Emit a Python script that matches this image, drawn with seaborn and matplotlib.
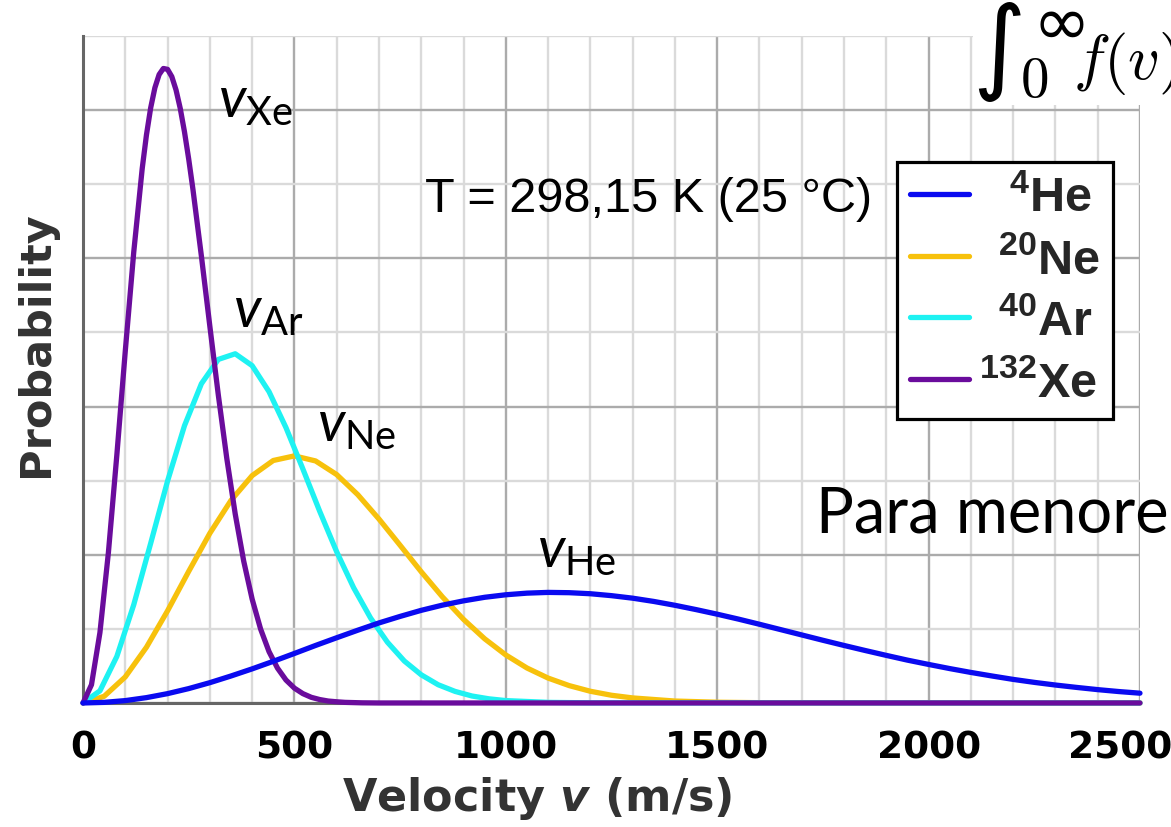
import numpy as np
import pandas as pd
import seaborn as sns
import matplotlib.pyplot as plt
from matplotlib.ticker import MultipleLocator, NullFormatter
from matplotlib.transforms import ScaledTranslation
from matplotlib.patches import Rectangle

# --- values (probability in units of 1e-3 s/m) ---
he_v = [0, 50, 100, 150, 200, 250, 300, 350, 400, 450, 500, 550, 600, 650, 700,
        750, 800, 850, 900, 950, 1000, 1050, 1100, 1150, 1200, 1250, 1300, 1350,
        1400, 1450, 1500, 1550, 1600, 1650, 1700, 1750, 1800, 1850, 1900, 1950,
        2000, 2050, 2100, 2150, 2200, 2250, 2300, 2350, 2400, 2450, 2500]
he_p = [0, 0.004, 0.016, 0.036, 0.063, 0.097, 0.137, 0.182, 0.230, 0.281, 0.334,
        0.388, 0.440, 0.491, 0.540, 0.584, 0.625, 0.660, 0.689, 0.713, 0.730,
        0.741, 0.746, 0.744, 0.737, 0.724, 0.707, 0.685, 0.659, 0.630, 0.599,
        0.566, 0.531, 0.495, 0.459, 0.423, 0.388, 0.354, 0.321, 0.289, 0.260,
        0.232, 0.206, 0.182, 0.159, 0.139, 0.121, 0.105, 0.090, 0.077, 0.066]

ne_v = [0, 50, 100, 150, 200, 250, 300, 350, 400, 450, 500, 550, 600, 650, 700,
        750, 800, 850, 900, 950, 1000, 1050, 1100, 1150, 1200, 1250, 1300, 1400,
        1500, 1600, 2500]
ne_p = [0, 0.045, 0.176, 0.376, 0.622, 0.888, 1.145, 1.367, 1.534, 1.636, 1.667,
        1.633, 1.541, 1.405, 1.241, 1.064, 0.885, 0.716, 0.564, 0.433, 0.324,
        0.236, 0.168, 0.117, 0.079, 0.052, 0.034, 0.013, 0.005, 0.002, 0]

ar_v = [0, 40, 80, 120, 160, 200, 240, 280, 320, 360, 400, 440, 480, 520, 560,
        600, 640, 680, 720, 760, 800, 840, 880, 920, 960, 1000, 1100, 1200, 2500]
ar_p = [0, 0.082, 0.314, 0.663, 1.077, 1.498, 1.871, 2.154, 2.318, 2.356, 2.276,
        2.100, 1.858, 1.579, 1.292, 1.020, 0.778, 0.574, 0.410, 0.283, 0.190,
        0.123, 0.078, 0.047, 0.028, 0.016, 0.004, 0.001, 0]

xe_v = [0, 20, 40, 60, 80, 100, 120, 140, 150, 160, 170, 180, 190, 200, 210, 220,
        230, 240, 250, 260, 280, 300, 320, 340, 360, 380, 400, 420, 440, 460, 480,
        500, 520, 540, 560, 580, 600, 620, 660, 700, 2500]
xe_p = [0, 0.123, 0.475, 1.014, 1.673, 2.376, 3.043, 3.606, 3.832, 4.015, 4.151,
        4.240, 4.281, 4.275, 4.226, 4.136, 4.011, 3.853, 3.669, 3.465, 3.015,
        2.541, 2.078, 1.651, 1.275, 0.958, 0.701, 0.499, 0.346, 0.235, 0.155,
        0.100, 0.063, 0.038, 0.023, 0.013, 0.008, 0.004, 0.001, 0, 0]

gases = ["He", "Ne", "Ar", "Xe"]
legend_labels = [r"$\enspace\;{}^{4}$He", r"$\enspace{}^{20}$Ne",
                 r"$\enspace{}^{40}$Ar", r"$^{132}$Xe"]
colors = {"He": "#0a0af0", "Ne": "#f7c10c", "Ar": "#1ef2f2", "Xe": "#6a0c9c"}
series = {"He": (he_v, he_p), "Ne": (ne_v, ne_p), "Ar": (ar_v, ar_p), "Xe": (xe_v, xe_p)}

# --- style ---
sns.set_style("white")
plt.rcParams["font.family"] = ["DejaVu Sans"]
plt.rcParams["mathtext.fontset"] = "custom"
plt.rcParams["mathtext.rm"] = "Liberation Sans"
plt.rcParams["mathtext.it"] = "Lato:italic"
plt.rcParams["mathtext.bf"] = "Liberation Sans:bold"
plt.rcParams["mathtext.bfit"] = "DejaVu Sans:italic:bold"
plt.rcParams["mathtext.default"] = "regular"

fig = plt.figure(figsize=(11.71, 8.28), dpi=100)
ax = fig.add_axes([0.0709, 0.1498, 0.9026, 0.8055])

# draw order: Ne, Ar, Xe, He
for g in ["Ne", "Ar", "Xe", "He"]:
    v, p = series[g]
    df = pd.DataFrame({"v": v, "p": p})
    sns.lineplot(data=df, x="v", y="p", color=colors[g], lw=3.8, ax=ax,
                 label=g, zorder=3, clip_on=False,
                 solid_joinstyle="round", solid_capstyle="round")

ax.set_xlim(0, 2500)
ax.set_ylim(0, 4.5)
ax.xaxis.set_major_locator(MultipleLocator(500))
ax.xaxis.set_minor_locator(MultipleLocator(100))
ax.yaxis.set_major_locator(MultipleLocator(1))
ax.yaxis.set_minor_locator(MultipleLocator(0.5))
ax.yaxis.set_major_formatter(NullFormatter())

ax.set_axisbelow(True)
ax.grid(which="major", color="#ababab", lw=1.7)
ax.grid(which="minor", color="#dadada", lw=1.7)

for s in ["top", "right"]:
    ax.spines[s].set_visible(False)
for s in ["left", "bottom"]:
    ax.spines[s].set_color("#666666")
    ax.spines[s].set_linewidth(2.2)

ax.tick_params(axis="x", which="major", length=10, width=2, color="#555555",
               labelsize=27, pad=9, labelcolor="black")
ax.tick_params(axis="x", which="minor", length=0)
ax.tick_params(axis="y", which="major", length=5, width=1.5, color="#555555")
ax.tick_params(axis="y", which="minor", length=0)
plt.setp(ax.get_xticklabels(), fontweight="bold")
# the 2500 label is pushed left so it stays inside the picture
for tick in ax.xaxis.get_major_ticks():
    if tick.get_loc() == 2500:
        lbl = tick.label1
        lbl.set_transform(lbl.get_transform() + ScaledTranslation(-0.2, 0, fig.dpi_scale_trans))

ax.set_xlabel(r"Velocity $\mathbfit{v}$ (m/s)", fontsize=32, fontweight="bold",
              color="#333333")
ax.xaxis.set_label_coords(0.43, -0.106)
ax.set_ylabel("Probability", fontsize=31, fontweight="bold", color="#333333")
ax.yaxis.set_label_coords(-0.025, 0.54)

# --- legend ---
handles, labels = ax.get_legend_handles_labels()
hmap = dict(zip(labels, handles))
leg = ax.legend([hmap[g] for g in gases], legend_labels,
                loc="upper left", bbox_to_anchor=(0.770, 0.811),
                prop={"family": "Liberation Sans", "weight": "bold", "size": 35},
                fancybox=False, framealpha=1, edgecolor="black",
                borderaxespad=0, borderpad=0.28, handlelength=1.2,
                handletextpad=0.2, labelspacing=0.32)
leg.get_frame().set_linewidth(2.3)

# --- annotations ---
ax.text(809, 3.32, "T = 298,15 K (25 °C)", fontsize=35, color="black",
        family="Liberation Sans", va="baseline", ha="left")

peak_labels = [("Xe", 319, 3.96), ("Ar", 355, 2.54), ("Ne", 553, 1.77), ("He", 1074, 0.92)]
for g, x, y in peak_labels:
    ax.text(x, y, r"$\mathit{v}_{" + g + "}$", fontsize=41, family="Lato",
            color="black", va="baseline", ha="left")

fig.text(0.697, 0.357, "Para menore", fontsize=45.5, family="Lato", color="black",
         va="baseline")

# integral snippet pasted in the top right corner, on a white patch
fig.add_artist(Rectangle((973 / 1171, 1 - 106 / 828), 0.2, 106 / 828,
                         transform=fig.transFigure, facecolor="white",
                         edgecolor="none", zorder=2))
fig.text(972 / 1171, 1 - 52 / 828, r"$\int$", fontsize=74, math_fontfamily="cm",
         color="black", va="center", ha="left", zorder=4)
fig.text(1032 / 1171, 1 - 24 / 828, r"$\infty$", fontsize=50, math_fontfamily="cm",
         color="black", va="center", ha="left", zorder=4)
fig.text(1020 / 1171, 1 - 82 / 828, r"$\mathrm{0}$", fontsize=41, math_fontfamily="cm",
         color="black", va="center", ha="left", zorder=4)
fig.text(1073 / 1171, 1 - 79 / 828, r"$\mathit{f}\mathrm{(}\mathit{v}\mathrm{)}$",
         fontsize=45, math_fontfamily="cm", color="black", va="baseline",
         ha="left", zorder=4)

fig.savefig("out.png", dpi=100)
